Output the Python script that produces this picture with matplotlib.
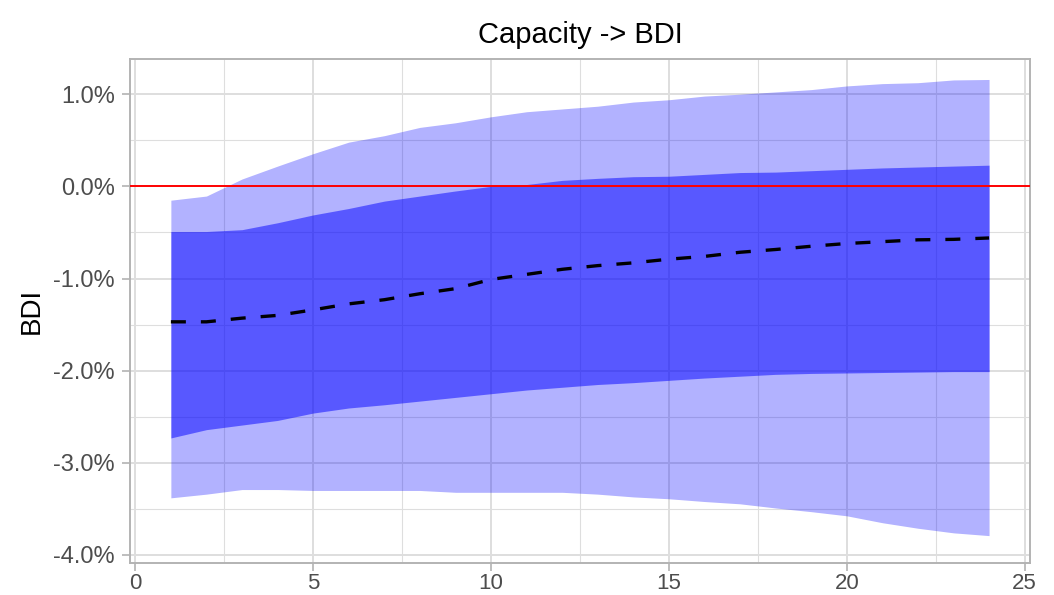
import matplotlib.pyplot as plt
import numpy as np
from matplotlib.ticker import FuncFormatter, MultipleLocator

plt.rcParams['font.family'] = ['Liberation Sans', 'DejaVu Sans']

# horizon (months)
h = np.arange(1, 25)

# impulse response of BDI to a capacity shock, in percent
irf = [-1.47, -1.47, -1.43, -1.40, -1.34, -1.275, -1.23, -1.165, -1.11, -1.01,
       -0.955, -0.90, -0.86, -0.83, -0.79, -0.76, -0.715, -0.685, -0.65, -0.62,
       -0.60, -0.58, -0.575, -0.56]
# inner band
lo68 = [-2.73, -2.64, -2.59, -2.54, -2.46, -2.405, -2.37, -2.33, -2.29, -2.25,
        -2.21, -2.18, -2.15, -2.13, -2.105, -2.08, -2.06, -2.04, -2.03, -2.025,
        -2.02, -2.015, -2.01, -2.01]
hi68 = [-0.49, -0.49, -0.47, -0.395, -0.31, -0.24, -0.16, -0.105, -0.05, 0.0,
        0.02, 0.065, 0.087, 0.105, 0.11, 0.13, 0.15, 0.155, 0.17, 0.185,
        0.20, 0.21, 0.22, 0.23]
# outer band
lo95 = [-3.38, -3.34, -3.29, -3.29, -3.30, -3.30, -3.30, -3.30, -3.32, -3.32,
        -3.32, -3.32, -3.34, -3.37, -3.39, -3.42, -3.445, -3.49, -3.53, -3.575,
        -3.65, -3.71, -3.76, -3.79]
hi95 = [-0.15, -0.105, 0.08, 0.22, 0.355, 0.48, 0.55, 0.64, 0.69, 0.755,
        0.81, 0.84, 0.87, 0.915, 0.94, 0.98, 1.0, 1.025, 1.05, 1.09,
        1.115, 1.125, 1.155, 1.16]

fig = plt.figure(figsize=(10.54, 5.95), dpi=100)
ax = fig.add_axes([0.1233, 0.0538, 0.8539, 0.8467])

ax.fill_between(h, lo95, hi95, color='blue', alpha=0.3, lw=0, zorder=2)
ax.fill_between(h, lo68, hi68, color='blue', alpha=0.5, lw=0, zorder=3)
ax.axhline(0, color='red', lw=1.4, zorder=4)
ax.plot(h, irf, color='black', lw=2.4, ls=(0, (4.5, 4.5)), zorder=5)

ax.set_xlim(-0.15, 25.15)
ax.set_ylim(-4.087, 1.38)
ax.xaxis.set_major_locator(MultipleLocator(5))
ax.xaxis.set_minor_locator(MultipleLocator(2.5))
ax.yaxis.set_major_locator(MultipleLocator(1))
ax.yaxis.set_minor_locator(MultipleLocator(0.5))
ax.yaxis.set_major_formatter(FuncFormatter(lambda v, p: f'{v:.1f}%'))

ax.grid(which='major', color='#DEDEDE', lw=1.4, zorder=0)
ax.grid(which='minor', color='#DEDEDE', lw=0.8, zorder=0)
ax.set_axisbelow(True)
for s in ax.spines.values():
    s.set_color('#B3B3B3')
    s.set_linewidth(1.4)
ax.tick_params(which='major', length=6, width=1.2, color='#B3B3B3',
               labelsize=17, labelcolor='#4D4D4D', pad=3)
ax.tick_params(axis='x', which='major', labelsize=16, pad=1)
ax.tick_params(axis='y', which='major', pad=5)
ax.tick_params(which='minor', length=0)

ax.set_title('Capacity -> BDI', fontsize=21, pad=12)
ax.set_ylabel('BDI', fontsize=20, labelpad=6)

fig.savefig('out.png', dpi=100)
